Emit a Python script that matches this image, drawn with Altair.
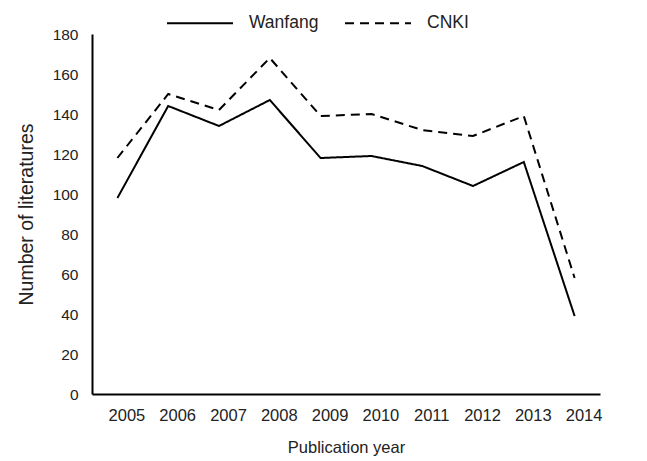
import altair as alt
import pandas as pd

years = [2005, 2006, 2007, 2008, 2009, 2010, 2011, 2012, 2013, 2014]
wanfang = [98, 144, 134, 147, 118, 119, 114, 104, 116, 39]
cnki = [118, 150, 142, 168, 139, 140, 132, 129, 139, 58]
series_names = ["Wanfang", "CNKI"]

rows = []
for y, w, c in zip(years, wanfang, cnki):
    rows.append({"year": str(y), "count": w, "source": series_names[0]})
    rows.append({"year": str(y), "count": c, "source": series_names[1]})
df = pd.DataFrame(rows)

FONT = "Liberation Sans"

chart = (
    alt.Chart(df)
    .mark_line(color="black", strokeWidth=2)
    .encode(
        x=alt.X(
            "year:O",
            title="Publication year",
            scale=alt.Scale(type="point", padding=0.5),
            axis=alt.Axis(
                labelAngle=0,
                tickOffset=9,
                labelPadding=13,
                titlePadding=16,
                ticks=False,
                labelFontSize=16.5,
                titleFontSize=16.5,
            ),
        ),
        y=alt.Y(
            "count:Q",
            title="Number of literatures",
            scale=alt.Scale(domain=[0, 180], nice=False),
            axis=alt.Axis(
                values=list(range(0, 181, 20)),
                ticks=False,
                labelPadding=14,
                titlePadding=16,
                grid=False,
                labelFontSize=15.5,
                titleFontSize=19.5,
            ),
        ),
        strokeDash=alt.StrokeDash(
            "source:N",
            scale=alt.Scale(domain=series_names, range=[[1, 0], [9, 6]]),
            legend=alt.Legend(
                title=None,
                orient="none",
                direction="horizontal",
                legendX=74,
                legendY=-45,
                symbolType="stroke",
                symbolSize=4356,
                symbolStrokeWidth=2,
                symbolStrokeColor="black",
                labelOffset=15,
                columnPadding=22,
                labelFontSize=17.5,
                labelFont=FONT,
                labelColor="#222222",
                padding=0,
            ),
        ),
        detail="source:N",
    )
    .properties(
        width=508,
        height=360,
        autosize=alt.AutoSizeParams(type="none"),
        padding={"left": 84, "top": 26, "right": 39, "bottom": 67},
    )
    .configure_view(stroke=None)
    .configure_axis(
        domainColor="black",
        domainWidth=2,
        labelFont=FONT,
        titleFont=FONT,
        labelColor="#222222",
        titleColor="#222222",
        titleFontWeight="normal",
    )
)

chart.save("out.html", embed_options={"renderer": "svg", "actions": False})
